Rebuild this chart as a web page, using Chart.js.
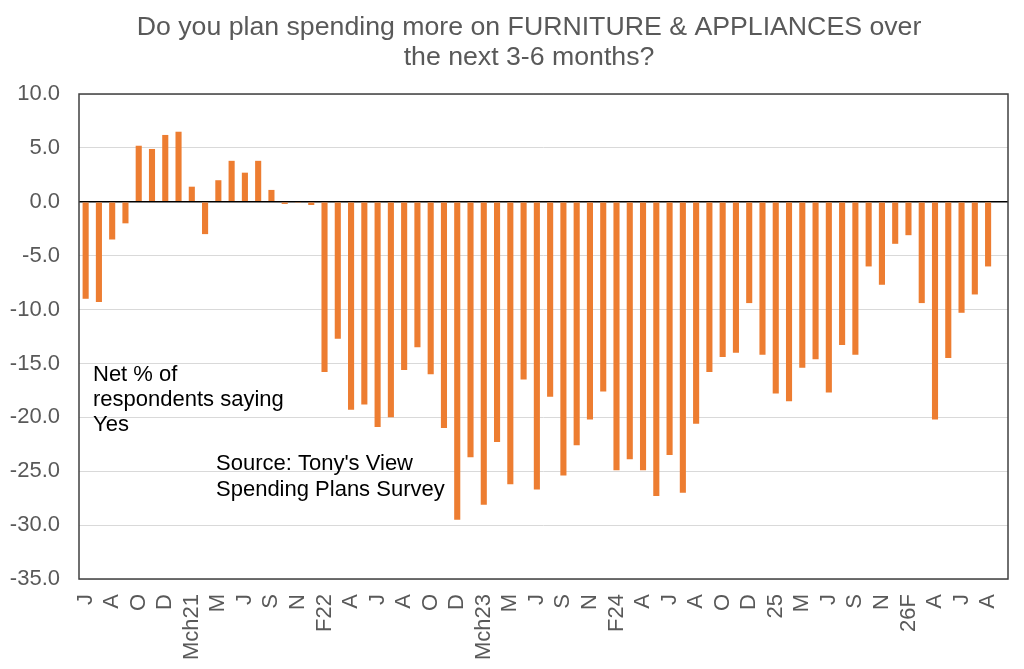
<!DOCTYPE html>
<html>
<head>
<meta charset="utf-8">
<script src="https://cdn.jsdelivr.net/npm/chart.js@4"></script>
<style>
  html, body { margin: 0; padding: 0; background: #fff; }
  #wrap { width: 1024px; height: 669px; }
</style>
</head>
<body>
<div id="wrap"><canvas id="furnitureChart" width="1024" height="669"></canvas></div>
<script>
// every other month gets a label on the axis
const tickLabels = ['J', 'A', 'O', 'D', 'Mch21', 'M', 'J', 'S', 'N', 'F22', 'A', 'J', 'A', 'O', 'D', 'Mch23', 'M', 'J',
  'S', 'N', 'F24', 'A', 'J', 'A', 'O', 'D', '25', 'M', 'J', 'S', 'N', '26F', 'A', 'J', 'A'];

const netYes = [
  -9.0, -9.3, -3.5, -2.0, 5.2, 4.9, 6.2, 6.5, 1.4, -3.0,
  2.0, 3.8, 2.7, 3.8, 1.1, -0.2, -0.1, -0.3, -15.8, -12.7,
  -19.3, -18.8, -20.9, -20.0, -15.6, -13.5, -16.0, -21.0, -29.5, -23.7,
  -28.1, -22.3, -26.2, -16.5, -26.7, -18.1, -25.4, -22.6, -20.2, -17.6,
  -24.9, -23.9, -24.9, -27.3, -23.5, -27.0, -20.6, -15.8, -14.4, -14.0,
  -9.4, -14.2, -17.8, -18.5, -15.4, -14.6, -17.7, -13.3, -14.2, -6.0,
  -7.7, -3.9, -3.1, -9.4, -20.2, -14.5, -10.3, -8.6, -6.0, null
];

const titleLines = ['Do you plan spending more on FURNITURE & APPLIANCES over', 'the next 3-6 months?'];
const noteLines = ['Net % of', 'respondents saying', 'Yes'];
const sourceLines = ["Source: Tony's View", 'Spending Plans Survey'];

const labels = netYes.map((v, i) => (i % 2 === 0 ? tickLabels[i / 2] || '' : ''));

const FONT = '"Liberation Sans", Arial, sans-serif';

// title, notes and the box round the plot
const extras = {
  id: 'extras',
  afterDraw(chart) {
    const ctx = chart.ctx;
    const a = chart.chartArea;
    ctx.save();
    ctx.strokeStyle = '#404040';
    ctx.lineWidth = 1.5;
    ctx.strokeRect(a.left, a.top, a.right - a.left, a.bottom - a.top);

    ctx.fillStyle = '#595959';
    ctx.font = '26.7px ' + FONT;
    ctx.textAlign = 'center';
    ctx.textBaseline = 'alphabetic';
    titleLines.forEach((t, i) => ctx.fillText(t, 529, 35 + i * 30));

    ctx.fillStyle = '#000';
    ctx.font = '22px ' + FONT;
    ctx.textAlign = 'left';
    noteLines.forEach((t, i) => ctx.fillText(t, 93, 381 + i * 25));
    sourceLines.forEach((t, i) => ctx.fillText(t, 216, 470 + i * 26));
    ctx.restore();
  }
};

new Chart(document.getElementById('furnitureChart').getContext('2d'), {
  type: 'bar',
  data: {
    labels: labels,
    datasets: [{
      label: 'Net % saying Yes',
      data: netYes,
      backgroundColor: '#ED7D31',
      barPercentage: 0.46,
      categoryPercentage: 1.0
    }]
  },
  options: {
    responsive: false,
    animation: false,
    layout: { padding: { top: 94, right: 16, left: 0, bottom: 0 } },
    plugins: {
      legend: { display: false },
      title: { display: false },
      tooltip: { enabled: false }
    },
    scales: {
      x: {
        grid: { display: false, drawTicks: false },
        border: { display: false },
        ticks: {
          autoSkip: false,
          maxRotation: 90,
          minRotation: 90,
          padding: 15,
          color: '#595959',
          font: { family: FONT, size: 22 }
        },
        afterFit(scale) {
          scale.height = 90;
          scale.paddingLeft = 0;
          scale.paddingRight = 0;
        }
      },
      y: {
        min: -35,
        max: 10,
        grid: {
          drawTicks: false,
          color: ctx => (ctx.tick && ctx.tick.value === 0 ? '#000' : '#d9d9d9'),
          lineWidth: ctx => (ctx.tick && ctx.tick.value === 0 ? 1.5 : 1)
        },
        border: { display: false },
        ticks: {
          stepSize: 5,
          padding: 19,
          color: '#595959',
          font: { family: FONT, size: 22 },
          callback: v => Number(v).toFixed(1)
        },
        afterFit(scale) {
          scale.width = 79;
          scale.paddingTop = 0;
          scale.paddingBottom = 0;
        }
      }
    }
  },
  plugins: [extras]
});
</script>
</body>
</html>
